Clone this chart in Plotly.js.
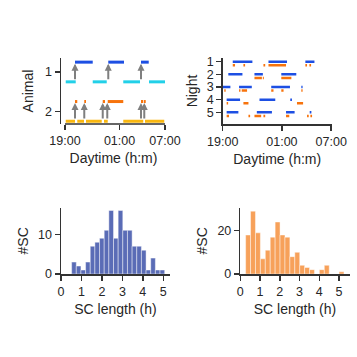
<!DOCTYPE html>
<html><head><meta charset="utf-8">
<script src="https://cdn.plot.ly/plotly-3.0.1.min.js"></script>
<style>html,body{margin:0;padding:0;background:#fff}#g{width:357px;height:357px}</style>
</head><body><div id="g"></div>
<script>
// ---- data (hours after 19:00) ----
const timeTickVals = [0, 6, 11];
const timeTickText = ['19:00', '01:00', '07:00'];
const animals = [1, 2];
const animal1Active = [[1.10, 3.05], [4.76, 6.49], [8.36, 9.21]];
const animal1Rest = [[0.08, 1.18], [3.05, 4.59], [6.41, 8.25], [9.24, 11.0]];
const animal2Active = [[1.10, 1.35], [2.12, 2.31], [4.15, 4.40], [4.70, 6.41], [8.36, 8.58], [8.66, 8.88]];
const animal2Rest = [[0.08, 1.10], [1.35, 2.09], [2.31, 4.04], [4.29, 4.70], [6.41, 8.61], [8.80, 10.92]];
const animal1Arrows = [1.10, 4.76, 8.36];
const animal2Arrows = [1.10, 2.12, 4.15, 4.65, 8.36, 8.72];

const nights = [1, 2, 3, 4, 5];
const night1Blue = [[1.02, 3.01], [4.64, 6.52], [8.38, 9.30]];
const night1Orange = [[1.02, 1.25], [2.10, 2.27], [4.13, 4.31], [4.64, 6.42], [8.38, 8.55], [8.79, 8.96]];
const night2Blue = [[0.57, 2.00], [3.22, 4.07], [5.94, 7.46]];
const night2Orange = [[3.22, 3.97], [4.07, 4.17], [5.94, 6.96]];
const night3Blue = [[0.00, 0.78], [1.66, 2.95], [4.92, 6.82], [7.97, 8.10]];
const night3Orange = [[0.16, 0.30], [1.66, 1.80], [1.93, 2.47], [4.92, 5.15], [5.94, 6.17], [7.97, 8.10]];
const night4Blue = [[0.40, 1.76], [3.73, 5.33], [6.85, 7.02]];
const night4Orange = [[0.40, 0.55], [2.10, 2.61], [7.53, 8.15]];
const night5Blue = [[0.40, 1.59], [3.46, 4.99], [6.42, 7.29], [8.82, 8.99]];
const night5Orange = [[0.40, 0.64], [2.61, 2.78], [3.22, 3.90], [4.13, 4.31], [6.42, 6.75], [8.55, 8.72], [8.89, 9.06]];

const scLeftCounts = [3, 2, 1, 3, 7, 8, 9, 11, 16, 9, 16, 11, 11, 7, 7, 6, 1, 4, 1, 1];
const scLeftRange = [0.52, 5.07];
const scRightCounts = [18, 29, 19, 7, 11, 17, 24, 18, 17, 8, 10, 4, 3, 2, 0, 2, 4, 0, 0, 1];
const scRightRange = [0.27, 5.25];

// ---- styles ----
const C_BLUE = '#1d4fe3', C_CYAN = '#22d0e8', C_ORANGE = '#f7730c', C_GOLD = '#f9b710';
const C_HIST1 = '#5a6cb6', C_HIST2 = '#f7a15a';
const AX = '#333333', FONT = 'Arial, "Liberation Sans", sans-serif';

function segTrace(segs, yv, color, width, xa, ya) {
  const x = [], y = [];
  segs.forEach(s => { x.push(s[0], s[1], null); y.push(yv, yv, null); });
  return {type: 'scatter', mode: 'lines', x, y, xaxis: xa, yaxis: ya,
          line: {color, width}, hoverinfo: 'skip', showlegend: false};
}
function histTrace(counts, rng, color, xa, ya) {
  const w = (rng[1] - rng[0]) / counts.length;
  const x = counts.map((c, i) => rng[0] + w * (i + 0.5));
  return {type: 'bar', x, y: counts, width: w, xaxis: xa, yaxis: ya,
          marker: {color, line: {color: 'rgba(255,255,255,0.55)', width: 0.8}}, showlegend: false};
}

const traces = [];
const off = 0.25;
traces.push(segTrace(animal1Rest, animals[0] + off, C_CYAN, 3, 'x', 'y'));
traces.push(segTrace(animal1Active, animals[0] - off, C_BLUE, 3, 'x', 'y'));
traces.push(segTrace(animal2Rest, animals[1] + off, C_GOLD, 3, 'x', 'y'));
traces.push(segTrace(animal2Active, animals[1] - off, C_ORANGE, 3, 'x', 'y'));

const nb = [night1Blue, night2Blue, night3Blue, night4Blue, night5Blue];
const no = [night1Orange, night2Orange, night3Orange, night4Orange, night5Orange];
nights.forEach((n, i) => {
  traces.push(segTrace(nb[i], n, C_BLUE, 2.5, 'x2', 'y2'));
  traces.push(segTrace(no[i], n + 0.28, C_ORANGE, 2.5, 'x2', 'y2'));
});

traces.push(histTrace(scLeftCounts, scLeftRange, C_HIST1, 'x3', 'y3'));
traces.push(histTrace(scRightCounts, scRightRange, C_HIST2, 'x4', 'y4'));

const annotations = [];
function arrows(xs, yv) {
  xs.forEach(xv => annotations.push({x: xv, y: yv - 0.21, ax: xv, ay: yv + 0.22,
    xref: 'x', yref: 'y', axref: 'x', ayref: 'y', text: '', showarrow: true,
    arrowhead: 2, arrowsize: 0.7, arrowwidth: 2, arrowcolor: '#7f7f7f'}));
}
arrows(animal1Arrows, animals[0]);
arrows(animal2Arrows, animals[1]);

const tf = {family: FONT, size: 12.5, color: '#262626'};
const ttf = {family: FONT, size: 14, color: '#262626'};
function axBase(extra) {
  return Object.assign({showgrid: false, zeroline: false, showline: true, linecolor: AX, linewidth: 1.5,
    ticks: 'outside', ticklen: 5, tickwidth: 1.5, tickcolor: AX, tickfont: tf, fixedrange: true}, extra);
}
const P = v => v / 357;

const layout = {
  width: 357, height: 357, margin: {l: 0, r: 0, t: 0, b: 0},
  paper_bgcolor: '#fff', plot_bgcolor: '#fff', font: {family: FONT}, bargap: 0,
  xaxis: axBase({domain: [P(61), P(166)], range: [-0.44, 11.11], anchor: 'y', showline: false,
    tickvals: timeTickVals, ticktext: timeTickText,
    title: {text: 'Daytime (h:m)', font: ttf, standoff: 6}}),
  yaxis: axBase({domain: [1 - P(124), 1 - P(58)], range: [2.32, 0.645], anchor: 'x',
    tickvals: animals, title: {text: 'Animal', font: ttf, standoff: 8}}),
  xaxis2: axBase({domain: [P(222.7), P(331.7)], range: [0, 11.05], anchor: 'y2',
    tickvals: timeTickVals, ticktext: timeTickText,
    title: {text: 'Daytime (h:m)', font: ttf, standoff: 6}}),
  yaxis2: axBase({domain: [1 - P(124), 1 - P(58)], range: [5.92, 0.71], anchor: 'x2',
    tickvals: nights, title: {text: 'Night', font: ttf, standoff: 6}}),
  xaxis3: axBase({domain: [P(61), P(170)], range: [0, 5.33], anchor: 'y3',
    tickvals: [0, 1, 2, 3, 4, 5], title: {text: 'SC length (h)', font: ttf, standoff: 6}}),
  yaxis3: axBase({domain: [1 - P(274), 1 - P(207.7)], range: [0, 16.7], anchor: 'x3',
    tickvals: [0, 10], title: {text: '#SC', font: ttf, standoff: 6}}),
  xaxis4: axBase({domain: [P(240.3), P(349.7)], range: [0, 5.54], anchor: 'y4',
    tickvals: [0, 1, 2, 3, 4, 5], title: {text: 'SC length (h)', font: ttf, standoff: 6}}),
  yaxis4: axBase({domain: [1 - P(274), 1 - P(207.7)], range: [0, 30.6], anchor: 'x4',
    tickvals: [0, 20], title: {text: '#SC', font: ttf, standoff: 6}}),
  shapes: [{type: 'line', xref: 'x', yref: 'paper', x0: timeTickVals[0], x1: timeTickVals[2],
    y0: 1 - P(124), y1: 1 - P(124), line: {color: AX, width: 1.5}}],
  annotations
};
Plotly.newPlot('g', traces, layout, {staticPlot: true, displayModeBar: false});
</script></body></html>
